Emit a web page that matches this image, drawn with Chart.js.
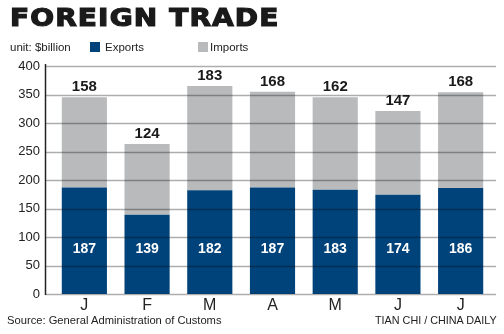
<!DOCTYPE html>
<html>
<head>
<meta charset="utf-8">
<script src="https://cdn.jsdelivr.net/npm/chart.js@4.4.0/dist/chart.umd.min.js"></script>
<style>
  body { margin: 0; background: #fff; }
  #wrap { position: relative; width: 504px; height: 334px; overflow: hidden; font-family: "Liberation Sans", Arial, sans-serif; }
  #myChart { position: absolute; left: 0; top: 0; }
  .txt { position: absolute; white-space: nowrap; color: #222; }
  #title { left: 10px; top: 3px; font-family: "DejaVu Sans"; font-weight: bold; font-size: 25px; line-height: 30px; color: #1a1a1a; letter-spacing: 1px; -webkit-text-stroke: 1.2px #1a1a1a; transform: scaleX(1.12); transform-origin: left top; }
  .sw { position: absolute; width: 10px; height: 10px; top: 42px; }
  .leg { top: 40px; font-size: 11.5px; line-height: 14px; }
  .foot { top: 313px; font-size: 11.2px; line-height: 14px; }
</style>
</head>
<body>
<div id="wrap">
  <canvas id="myChart" width="504" height="334"></canvas>
  <div id="title" class="txt">FOREIGN TRADE</div>
  <div class="txt leg" style="left:10px">unit: $billion</div>
  <div class="sw" style="left:90px;background:#00437a"></div>
  <div class="txt leg" style="left:105px">Exports</div>
  <div class="sw" style="left:198px;background:#b9babc"></div>
  <div class="txt leg" style="left:210px">Imports</div>
  <div class="txt foot" style="left:7px">Source: General Administration of Customs</div>
  <div class="txt foot" style="left:375px;font-size:10.8px">TIAN CHI / CHINA DAILY</div>
</div>
<script>
const months = ["J", "F", "M", "A", "M", "J", "J"];
const exportsData = [187, 139, 182, 187, 183, 174, 186];
const importsData = [158, 124, 183, 168, 162, 147, 168];
const yTicks = [0, 50, 100, 150, 200, 250, 300, 350, 400];

const blue = "#00437a";
const grey = "#b9babc";

// grid sits over the bars in the original, so it is drawn after the datasets
const gridOnTop = {
  id: "gridOnTop",
  afterDatasetsDraw(chart) {
    const { ctx, scales } = chart;
    const y = scales.y;
    ctx.save();
    ctx.strokeStyle = "rgba(0,0,0,0.32)";
    ctx.lineWidth = 1.5;
    yTicks.forEach((v) => {
      const py = Math.round(y.getPixelForValue(v)) + 0.5;
      ctx.beginPath();
      ctx.moveTo(45, py);
      ctx.lineTo(496, py);
      ctx.stroke();
    });
    ctx.strokeStyle = "#222";
    ctx.beginPath();
    ctx.moveTo(45.5, y.getPixelForValue(400) - 2);
    ctx.lineTo(45.5, y.getPixelForValue(0) + 1);
    ctx.stroke();

    // value labels
    const meta0 = chart.getDatasetMeta(0);
    const meta1 = chart.getDatasetMeta(1);
    ctx.textAlign = "center";
    ctx.textBaseline = "middle";
    meta0.data.forEach((bar, i) => {
      ctx.fillStyle = "#fff";
      ctx.font = "bold 14px 'Liberation Sans', Arial";
      ctx.fillText(exportsData[i], bar.x, y.getPixelForValue(79));
    });
    meta1.data.forEach((bar, i) => {
      ctx.fillStyle = "#1a1a1a";
      ctx.font = "bold 15px 'Liberation Sans', Arial";
      ctx.fillText(importsData[i], bar.x, bar.y - 10);
    });
    ctx.restore();
  },
};

const myChart = new Chart(document.querySelector("#myChart"), {
  type: "bar",
  data: {
    labels: months,
    datasets: [
      { label: "Exports", data: exportsData, backgroundColor: blue },
      { label: "Imports", data: importsData, backgroundColor: grey },
    ],
  },
  options: {
    responsive: false,
    animation: false,
    layout: { padding: { top: 66, right: 12, left: 0, bottom: 0 } },
    datasets: { bar: { barPercentage: 0.72, categoryPercentage: 1 } },
    plugins: { legend: { display: false }, tooltip: { enabled: false } },
    scales: {
      x: {
        stacked: true,
        grid: { display: false, drawTicks: false },
        border: { display: false },
        ticks: { color: "#222", font: { size: 16, family: "Liberation Sans" }, padding: 2 },
        afterFit: (s) => { s.height = 40; },
      },
      y: {
        stacked: true,
        min: 0,
        max: 400,
        grid: { display: false, drawTicks: false },
        border: { display: false },
        afterBuildTicks: (s) => { s.ticks = yTicks.map((v) => ({ value: v })); },
        ticks: { color: "#222", font: { size: 13, family: "Liberation Sans" }, padding: 13 },
        afterFit: (s) => { s.width = 53; },
      },
    },
  },
  plugins: [gridOnTop],
});
</script>
</body>
</html>
